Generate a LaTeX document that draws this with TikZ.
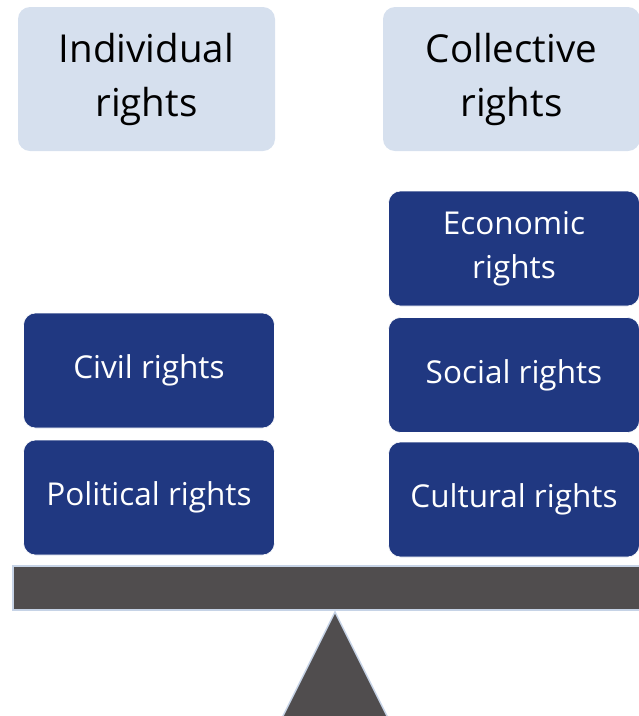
\documentclass[tikz,border=0pt]{standalone}
\usepackage{fontspec}
\setmainfont{Open Sans}
\definecolor{headfill}{HTML}{D6E0EE}
\definecolor{navy}{HTML}{203881}
\definecolor{beamgrey}{HTML}{504D4E}
\definecolor{beamedge}{HTML}{C6D3E6}
\begin{document}
\begin{tikzpicture}[x=1pt,y=-1pt,
  headbox/.style={rectangle, rounded corners=12pt, fill=headfill, draw=none,
    minimum width=257pt, minimum height=144pt, align=center,
    font=\fontsize{38.5}{54}\selectfont, text=black, inner sep=0pt},
  rightbox/.style={rectangle, rounded corners=12pt, fill=navy, draw=white, line width=0.6pt,
    minimum width=251pt, minimum height=115pt, align=center,
    font=\fontsize{31.5}{44}\selectfont, text=white, inner sep=0pt},
  beambox/.style={rectangle, fill=beamgrey, draw=beamedge, line width=1.5pt,
    minimum width=628pt, minimum height=44pt, inner sep=0pt}]
\useasboundingbox (0,0) rectangle (639,716);
% column headings
\node[headbox] (indiv) at (146.5,79) {Individual\\rights};
\node[headbox] (coll) at (511.5,79) {Collective\\rights};
% individual rights
\node[rightbox] (civil) at (149,370.5) {Civil rights};
\node[rightbox] (polit) at (149,497.5) {Political rights};
% collective rights
\node[rightbox] (econ) at (514,248.5) {Economic\\rights};
\node[rightbox] (social) at (514,375) {Social rights};
\node[rightbox] (cult) at (514,499.5) {Cultural rights};
% balance beam and fulcrum
\node[beambox] (beam) at (327,588) {};
\filldraw[fill=beamgrey, draw=beamedge, line width=1.5pt]
  (335,612) -- (281,720) -- (389,720) -- cycle;
\end{tikzpicture}
\end{document}
